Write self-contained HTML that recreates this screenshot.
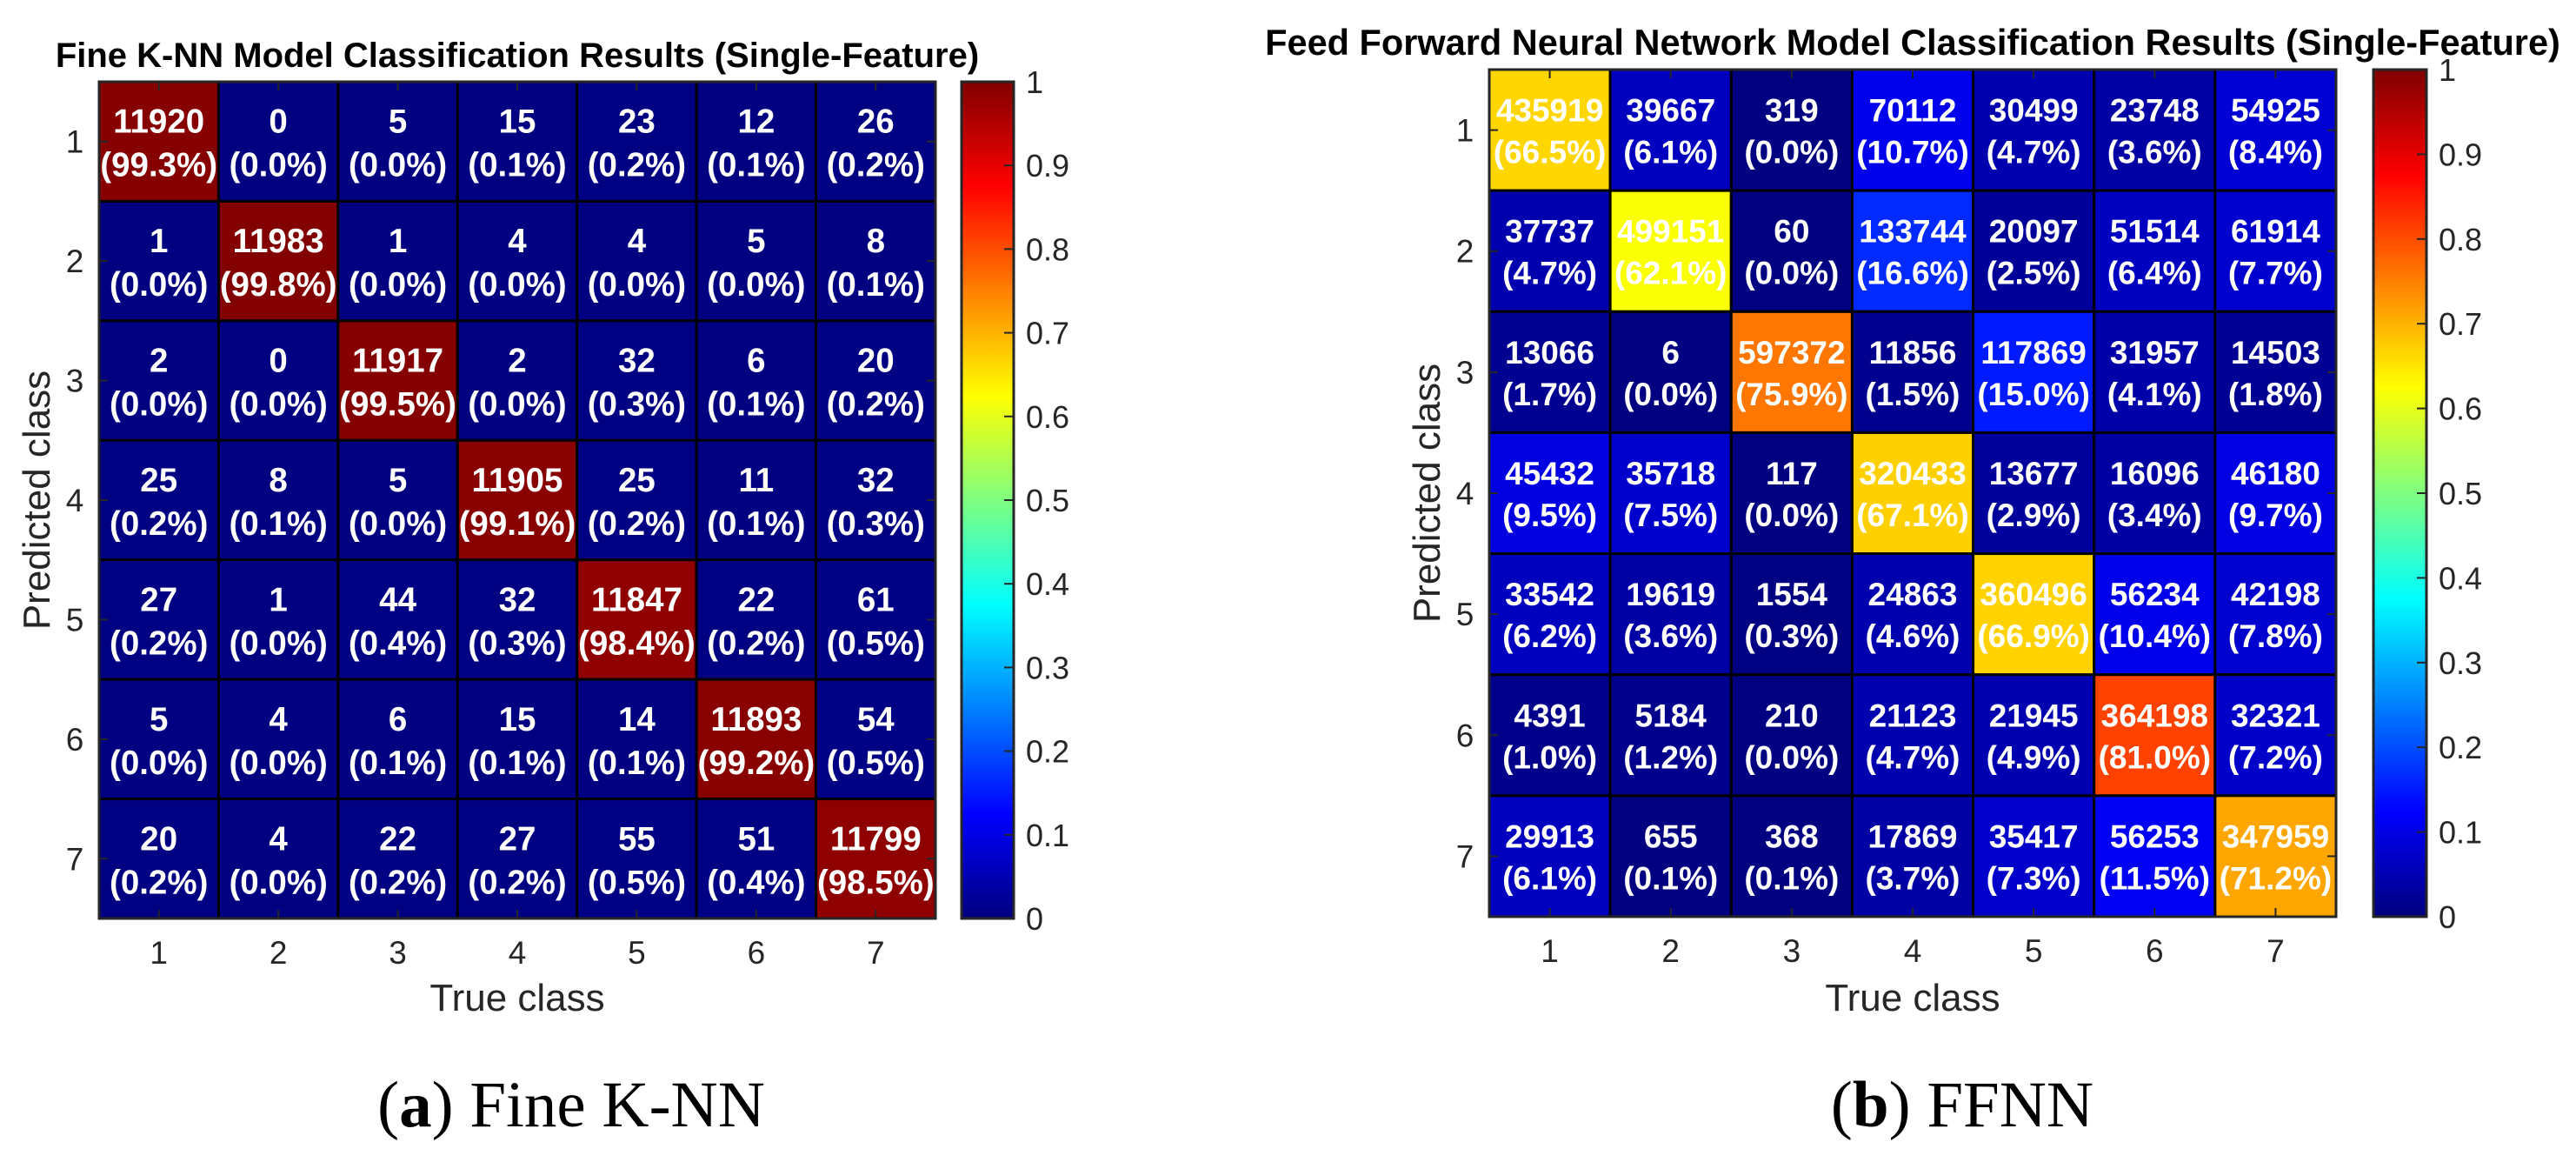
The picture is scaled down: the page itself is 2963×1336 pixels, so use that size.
<!DOCTYPE html>
<html><head><meta charset="utf-8"><style>
html,body{margin:0;padding:0;background:#fff;}
svg{display:block;}
</style></head><body>
<svg id="fig" width="2963" height="1336" viewBox="0 0 2963 1336" xmlns="http://www.w3.org/2000/svg" font-family="'Liberation Sans', sans-serif"></svg>
<script>
const classLabels = ["1","2","3","4","5","6","7"];
const knnCounts = [
 [11920,0,5,15,23,12,26],
 [1,11983,1,4,4,5,8],
 [2,0,11917,2,32,6,20],
 [25,8,5,11905,25,11,32],
 [27,1,44,32,11847,22,61],
 [5,4,6,15,14,11893,54],
 [20,4,22,27,55,51,11799]];
const knnPercents = [
 [99.3,0.0,0.0,0.1,0.2,0.1,0.2],
 [0.0,99.8,0.0,0.0,0.0,0.0,0.1],
 [0.0,0.0,99.5,0.0,0.3,0.1,0.2],
 [0.2,0.1,0.0,99.1,0.2,0.1,0.3],
 [0.2,0.0,0.4,0.3,98.4,0.2,0.5],
 [0.0,0.0,0.1,0.1,0.1,99.2,0.5],
 [0.2,0.0,0.2,0.2,0.5,0.4,98.5]];
const ffnnCounts = [
 [435919,39667,319,70112,30499,23748,54925],
 [37737,499151,60,133744,20097,51514,61914],
 [13066,6,597372,11856,117869,31957,14503],
 [45432,35718,117,320433,13677,16096,46180],
 [33542,19619,1554,24863,360496,56234,42198],
 [4391,5184,210,21123,21945,364198,32321],
 [29913,655,368,17869,35417,56253,347959]];
const ffnnPercents = [
 [66.5,6.1,0.0,10.7,4.7,3.6,8.4],
 [4.7,62.1,0.0,16.6,2.5,6.4,7.7],
 [1.7,0.0,75.9,1.5,15.0,4.1,1.8],
 [9.5,7.5,0.0,67.1,2.9,3.4,9.7],
 [6.2,3.6,0.3,4.6,66.9,10.4,7.8],
 [1.0,1.2,0.0,4.7,4.9,81.0,7.2],
 [6.1,0.1,0.1,3.7,7.3,11.5,71.2]];
const colorbarTicks = [0,0.1,0.2,0.3,0.4,0.5,0.6,0.7,0.8,0.9,1];

const NS="http://www.w3.org/2000/svg";
const svg=document.getElementById('fig');
function mk(tag,attrs,parent){const e=document.createElementNS(NS,tag);for(const k in attrs)e.setAttribute(k,attrs[k]);(parent||svg).appendChild(e);return e;}
function clamp(x){return Math.max(0,Math.min(1,x));}
function jet(v){const r=clamp(1.5-Math.abs(4*v-3)),g=clamp(1.5-Math.abs(4*v-2)),b=clamp(1.5-Math.abs(4*v-1));
 return `rgb(${Math.round(r*255)},${Math.round(g*255)},${Math.round(b*255)})`;}
const defs=mk('defs',{});
const grad=mk('linearGradient',{id:'jetgrad',x1:0,y1:1,x2:0,y2:0},defs);
for(let i=0;i<=64;i++){mk('stop',{offset:(i/64),'stop-color':jet(i/64)},grad);}

function chart(o){
 const g=mk('g',{});
 
 
 const n=classLabels.length, cw=o.w/n;
 const xs=i=>o.x+i*cw, ys=i=>o.y+i*cw;
 const t=mk('text',{x:o.x+o.w/2,y:o.titleY,'text-anchor':'middle','font-size':o.titleSize,'font-weight':'bold',fill:'#000'},g);
 t.textContent=o.title;
 
 
 for(let r=0;r<n;r++)for(let c=0;c<n;c++){
  const cell=mk('rect',{x:xs(c),y:ys(r),width:cw,height:cw,fill:jet(o.pct[r][c]/100),stroke:'#000','stroke-width':3},g);
  
  
 }
 for(let r=0;r<n;r++)for(let c=0;c<n;c++){
  const cx=xs(c)+cw/2, cy=ys(r)+cw/2;
  const a=mk('text',{x:cx,y:cy+o.off1,'text-anchor':'middle','font-size':o.cellSize,'font-weight':'bold',fill:'#fff'},g);
  a.textContent=o.counts[r][c];
  
  
  const b=mk('text',{x:cx,y:cy+o.off2,'text-anchor':'middle','font-size':o.cellSize,'font-weight':'bold',fill:'#fff'},g);
  b.textContent='('+o.pct[r][c].toFixed(1)+'%)';
  
  
 }
 mk('rect',{x:o.x,y:o.y,width:o.w,height:o.w,fill:'none',stroke:'#262626','stroke-width':3},g);
 for(let i=0;i<n;i++){
  const c=xs(i)+cw/2, r=ys(i)+cw/2;
  mk('line',{x1:c,y1:o.y,x2:c,y2:o.y+10,stroke:'#262626','stroke-width':2},g);
  mk('line',{x1:c,y1:o.y+o.w,x2:c,y2:o.y+o.w-10,stroke:'#262626','stroke-width':2},g);
  mk('line',{x1:o.x,y1:r,x2:o.x+10,y2:r,stroke:'#262626','stroke-width':2},g);
  mk('line',{x1:o.x+o.w,y1:r,x2:o.x+o.w-10,y2:r,stroke:'#262626','stroke-width':2},g);
  const xt=mk('text',{x:c,y:o.y+o.w+52,'text-anchor':'middle','font-size':37,fill:'#262626'},g);
  xt.textContent=classLabels[i];
  
  
  const yt=mk('text',{x:o.x-28,y:r+13,'text-anchor':'middle','font-size':37,fill:'#262626'},g);
  yt.textContent=classLabels[i];
  
  
 }
 const xl=mk('text',{x:o.x+o.w/2,y:1162,'text-anchor':'middle','font-size':44,fill:'#262626'},g);
 xl.textContent='True class';
 
 
 const yl=mk('text',{x:0,y:0,'text-anchor':'middle','font-size':44,fill:'#262626',transform:`translate(${o.ylabX},${o.y+o.w/2}) rotate(-90)`},g);
 yl.textContent='Predicted class';
 
 
 const cb=mk('rect',{x:o.cbX,y:o.y,width:o.cbW,height:o.w,fill:'url(#jetgrad)',stroke:'#262626','stroke-width':3},g);
 
 
 colorbarTicks.forEach(v=>{
  const yy=o.y+o.w-v*o.w;
  if(v>0&&v<1)mk('line',{x1:o.cbX+o.cbW,y1:yy,x2:o.cbX+o.cbW-11,y2:yy,stroke:'#262626','stroke-width':2},g);
  const tl=mk('text',{x:o.cbX+o.cbW+14,y:yy+13,'font-size':36,fill:'#262626'},g);
  tl.textContent=String(v);
  
  
 });
 const cap=mk('text',{x:o.capX,y:1295,'text-anchor':'middle','font-size':75,fill:'#000','font-family':"'Liberation Serif', serif"},g);
 
 
 const bb=mk('tspan',{'font-weight':'bold'},cap);bb.textContent=o.capBold;
 cap.insertBefore(document.createTextNode('('),bb);
 cap.appendChild(document.createTextNode(') '+o.capText));
}
chart({name:'knn-confusion-matrix',title:'Fine K-NN Model Classification Results (Single-Feature)',titleY:77,titleSize:40,
 x:114,y:94,w:962,counts:knnCounts,pct:knnPercents,cellSize:38.5,off1:-10,off2:40,ylabX:57,cbX:1106,cbW:60,
 capX:657,capBold:'a',capText:'Fine K-NN'});
chart({name:'ffnn-confusion-matrix',title:'Feed Forward Neural Network Model Classification Results (Single-Feature)',titleY:63,titleSize:41.5,
 x:1713,y:80,w:974,counts:ffnnCounts,pct:ffnnPercents,cellSize:37,off1:-10,off2:38,ylabX:1656,cbX:2730,cbW:61,
 capX:2257,capBold:'b',capText:'FFNN'});
</script>
</body></html>
